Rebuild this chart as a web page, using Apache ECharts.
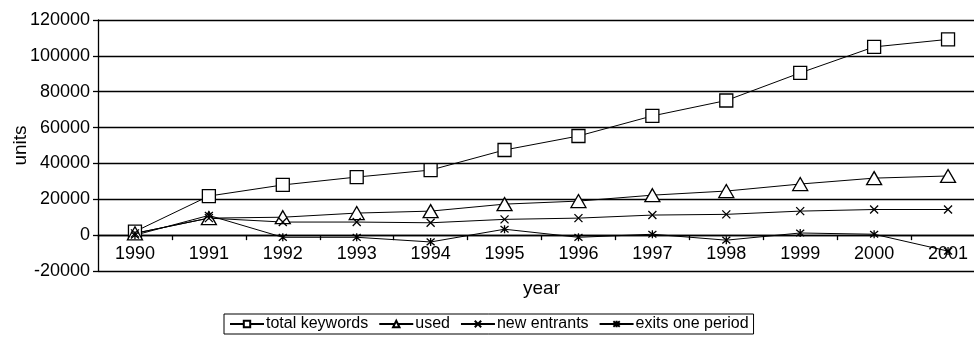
<!DOCTYPE html>
<html>
<head>
<meta charset="utf-8">
<script src="https://cdn.jsdelivr.net/npm/echarts@6/dist/echarts.min.js"></script>
<style>
  html, body { margin: 0; padding: 0; background: #fff; }
  #chart { width: 974px; height: 337px; }
</style>
</head>
<body>
<div id="chart"></div>
<script>
// Keyword counts per year
const years = ['1990', '1991', '1992', '1993', '1994', '1995', '1996', '1997', '1998', '1999', '2000', '2001'];
const totalKeywords = [2000, 21800, 28000, 32400, 36300, 47500, 55300, 66500, 75100, 90500, 105000, 109200];
const used = [1000, 9500, 10000, 12300, 13400, 17300, 19000, 22300, 24600, 28500, 31800, 33000];
const newEntrants = [1000, 9500, 7300, 7300, 6900, 8800, 9500, 11200, 11600, 13400, 14300, 14300];
const exitsOnePeriod = [0, 11000, -1200, -1200, -3800, 3300, -1200, 500, -2800, 1200, 500, -8900];

const FONT = 'Liberation Sans, Arial, sans-serif';

// Marker shapes drawn as open outlines
const SYM_X = 'path://M0,0L10,10M10,0L0,10';
const SYM_STAR = 'path://M0,0L10,10M10,0L0,10M5,-1L5,11';

function lineSeries(name, data, symbol, size) {
  return {
    name: name,
    type: 'line',
    data: data,
    symbol: symbol,
    symbolSize: size,
    showAllSymbol: true,
    lineStyle: { color: '#000', width: 1 },
    itemStyle: { color: '#fff', borderColor: '#000', borderWidth: 1.3 },
    emphasis: { disabled: true },
    animation: false
  };
}

const chart = echarts.init(document.getElementById('chart'), null, { renderer: 'canvas' });
chart.setOption({
  backgroundColor: '#fff',
  textStyle: { fontFamily: FONT, color: '#000' },
  grid: { left: 98, top: 20, bottom: 66, right: -11, containLabel: false, outerBoundsMode: 'none' },
  xAxis: {
    type: 'category',
    data: years,
    boundaryGap: true,
    name: 'year',
    nameLocation: 'middle',
    nameGap: 8,
    nameMoveOverlap: false,
    nameTextStyle: { fontSize: 19, color: '#000', fontFamily: FONT },
    axisLine: { onZero: true, lineStyle: { color: '#000', width: 1.3 } },
    axisTick: { show: true, length: 5, lineStyle: { color: '#000', width: 1.3 } },
    // year labels sit between the zero line and the bottom gridline
    axisLabel: { fontSize: 18, color: '#000', margin: -26, fontFamily: FONT, interval: 0 },
    splitLine: { show: false }
  },
  yAxis: {
    type: 'value',
    min: -20000,
    max: 120000,
    interval: 20000,
    name: 'units',
    nameLocation: 'middle',
    nameGap: 68,
    nameMoveOverlap: false,
    nameTextStyle: { fontSize: 19, color: '#000', fontFamily: FONT },
    axisLine: { show: true, lineStyle: { color: '#000', width: 1.3 } },
    axisTick: { show: true, length: 5, lineStyle: { color: '#000', width: 1.3 } },
    axisLabel: { fontSize: 18, color: '#000', margin: 8, fontFamily: FONT, formatter: function (v) { return String(v); } },
    splitLine: { show: true, showMinLine: true, showMaxLine: true, lineStyle: { color: '#000', width: 1.3 } }
  },
  legend: {
    bottom: 3,
    left: 224,
    orient: 'horizontal',
    borderColor: '#000',
    borderWidth: 1,
    borderRadius: 0,
    padding: [2, 5, 2, 5],
    itemGap: 10,
    itemWidth: 34,
    itemHeight: 8,
    textStyle: { fontSize: 16, color: '#000', fontFamily: FONT, padding: [0, 0, 0, -3] },
    data: ['total keywords', 'used', 'new entrants', 'exits one period']
  },
  series: [
    lineSeries('total keywords', totalKeywords, 'rect', 13),
    lineSeries('used', used, 'triangle', [15, 13]),
    lineSeries('new entrants', newEntrants, SYM_X, 8),
    lineSeries('exits one period', exitsOnePeriod, SYM_STAR, 8)
  ]
});
</script>
</body>
</html>
